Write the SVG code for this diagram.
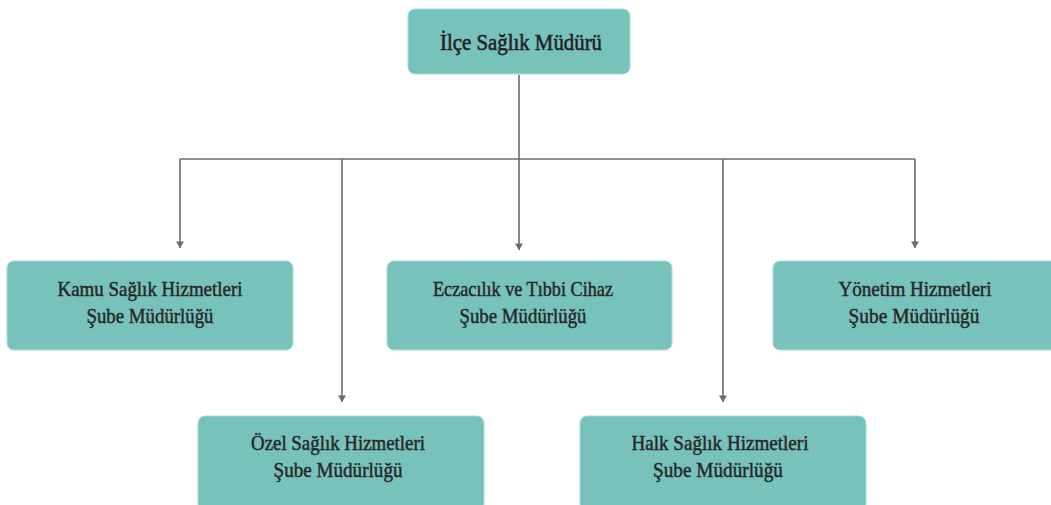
<svg xmlns="http://www.w3.org/2000/svg" width="1051" height="505" viewBox="0 0 1051 505">
<defs>
<marker id="arr" viewBox="0 0 8 10" refX="8" refY="5" markerWidth="9" markerHeight="8" markerUnits="userSpaceOnUse" orient="auto">
<path d="M0,0 L8,5 L0,10 Z" fill="#6b6b6b"/>
</marker>
</defs>
<style>
.box{fill:#77c3bb;stroke:#a8dcd6;stroke-width:1}
.t{font-family:"Liberation Serif","DejaVu Serif",serif;font-size:21px;fill:#262626;stroke:#262626;stroke-width:0.45;text-anchor:middle}
.tt{font-family:"Liberation Serif","DejaVu Serif",serif;font-size:23px;fill:#1f1f1f;stroke:#1f1f1f;stroke-width:0.55;text-anchor:middle}
.c{stroke:#6b6b6b;stroke-width:1.6;fill:none}
</style>
<rect width="1051" height="505" fill="#ffffff"/>
<g id="connectors">
<line class="c" x1="519" y1="75" x2="519" y2="159"/>
<line class="c" x1="180" y1="159" x2="915" y2="159"/>
<line class="c" x1="180" y1="159" x2="180" y2="248" marker-end="url(#arr)"/>
<line class="c" x1="342" y1="159" x2="342" y2="402" marker-end="url(#arr)"/>
<line class="c" x1="519" y1="159" x2="519" y2="250" marker-end="url(#arr)"/>
<line class="c" x1="723" y1="159" x2="723" y2="402" marker-end="url(#arr)"/>
<line class="c" x1="915" y1="159" x2="915" y2="248" marker-end="url(#arr)"/>
</g>
<g id="node-mudur">
<rect class="box" x="408" y="9" width="222" height="65" rx="7"/>
<text class="tt" x="521" y="50" textLength="162" lengthAdjust="spacingAndGlyphs">İlçe Sağlık Müdürü</text>
</g>
<g id="node-kamu">
<rect class="box" x="7" y="261" width="286" height="89" rx="7"/>
<text class="t" x="150" y="296" textLength="185" lengthAdjust="spacingAndGlyphs">Kamu Sağlık Hizmetleri</text>
<text class="t" x="150" y="323" textLength="127" lengthAdjust="spacingAndGlyphs">Şube Müdürlüğü</text>
</g>
<g id="node-eczacilik">
<rect class="box" x="387" y="261" width="285" height="89" rx="7"/>
<text class="t" x="523" y="296" textLength="180" lengthAdjust="spacingAndGlyphs">Eczacılık ve Tıbbi Cihaz</text>
<text class="t" x="523" y="323" textLength="127" lengthAdjust="spacingAndGlyphs">Şube Müdürlüğü</text>
</g>
<g id="node-yonetim">
<rect class="box" x="773" y="261" width="285" height="89" rx="7"/>
<text class="t" x="915" y="296" textLength="153" lengthAdjust="spacingAndGlyphs">Yönetim Hizmetleri</text>
<text class="t" x="914" y="323" textLength="131" lengthAdjust="spacingAndGlyphs">Şube Müdürlüğü</text>
</g>
<g id="node-ozel">
<rect class="box" x="198" y="416" width="286" height="95" rx="7"/>
<text class="t" x="338" y="450" textLength="174" lengthAdjust="spacingAndGlyphs">Özel Sağlık Hizmetleri</text>
<text class="t" x="338" y="477" textLength="129" lengthAdjust="spacingAndGlyphs">Şube Müdürlüğü</text>
</g>
<g id="node-halk">
<rect class="box" x="580" y="416" width="286" height="95" rx="7"/>
<text class="t" x="720" y="450" textLength="177" lengthAdjust="spacingAndGlyphs">Halk Sağlık Hizmetleri</text>
<text class="t" x="718" y="477" textLength="130" lengthAdjust="spacingAndGlyphs">Şube Müdürlüğü</text>
</g>
</svg>
